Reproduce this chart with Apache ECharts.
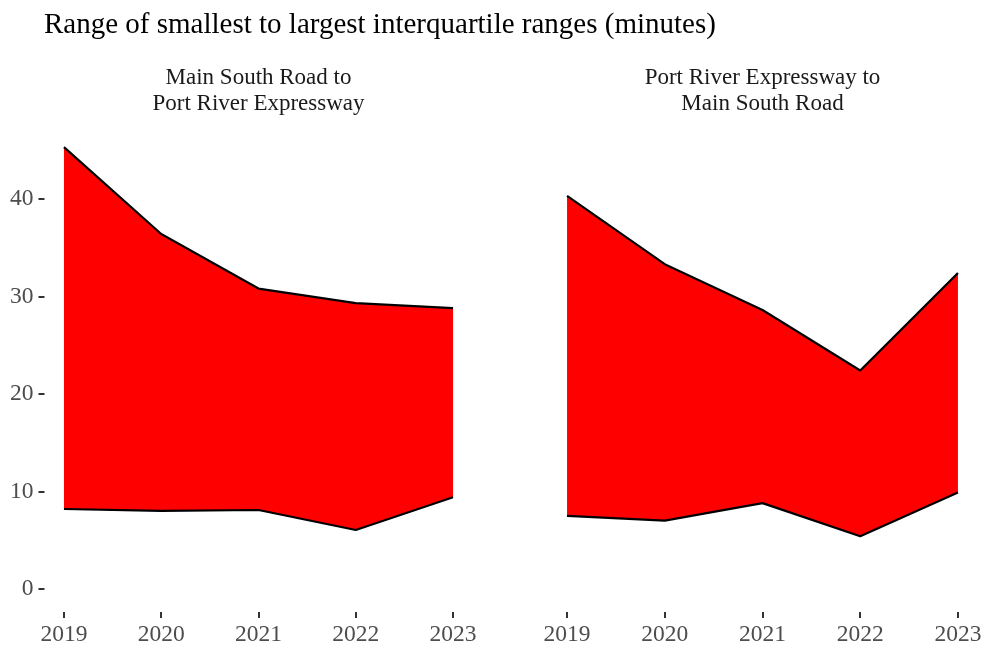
<!DOCTYPE html>
<html>
<head>
<meta charset="utf-8">
<script src="https://cdn.jsdelivr.net/npm/echarts@6/dist/echarts.min.js"></script>
<style>
html,body{margin:0;padding:0;background:#fff;}
#chart{width:987px;height:653px;}
</style>
</head>
<body>
<div id="chart"></div>
<script>
const years = [2019, 2020, 2021, 2022, 2023];
const yTicks = [0, 10, 20, 30, 40];
const panelTitles = ['Main South Road to\nPort River Expressway', 'Port River Expressway to\nMain South Road'];
const mainTitle = 'Range of smallest to largest interquartile ranges (minutes)';
// Main South Road -> Port River Expressway
const lowerA = [8.2, 8.0, 8.1, 6.05, 9.4];
const upperA = [45.3, 36.4, 30.8, 29.3, 28.8];
// Port River Expressway -> Main South Road
const lowerB = [7.5, 7.0, 8.8, 5.4, 9.9];
const upperB = [40.3, 33.3, 28.6, 22.4, 32.4];

const FONT = '"Liberation Serif", "Times New Roman", serif';
const chart = echarts.init(document.getElementById('chart'), null, {renderer: 'canvas'});

function pairs(vals) { return years.map((y, i) => [y, vals[i]]); }

const grids = [
  {left: 44.5, width: 428, top: 125, height: 487},
  {left: 547.5, width: 430, top: 125, height: 487}
];

function xAxis(idx) {
  return {
    type: 'value', gridIndex: idx, min: 2018.8, max: 2023.2,
    axisLine: {show: false, onZero: false},
    splitLine: {show: false},
    axisTick: {show: true, length: 6, customValues: years, lineStyle: {color: '#333333', width: 2}},
    axisLabel: {show: true, customValues: years, color: '#4d4d4d', fontFamily: FONT, fontSize: 23.5, margin: 11,
      formatter: v => String(v)}
  };
}
function yAxis(idx, showLabels) {
  return {
    type: 'value', gridIndex: idx, min: -2.36, max: 47.57,
    axisLine: {show: false, onZero: false},
    splitLine: {show: false},
    axisTick: {show: showLabels, length: 6, customValues: yTicks, lineStyle: {color: '#333333', width: 2}},
    axisLabel: {show: showLabels, customValues: yTicks, color: '#4d4d4d', fontFamily: FONT, fontSize: 23.5, margin: 11}
  };
}

function bandSeries(idx, lo, hi) {
  return [
    {
      type: 'custom', xAxisIndex: idx, yAxisIndex: idx, z: 2, silent: true,
      data: years.map((y, i) => [y, lo[i], hi[i]]),
      encode: {x: 0, y: [1, 2]},
      renderItem: (params, api) => {
        if (params.dataIndex !== 0) return null;
        const top = years.map((y, i) => api.coord([y, hi[i]]));
        const bot = years.map((y, i) => api.coord([y, lo[i]])).reverse();
        return {type: 'polygon', shape: {points: top.concat(bot)}, style: {fill: '#FF0000', stroke: null}};
      }
    },
    {
      type: 'line', xAxisIndex: idx, yAxisIndex: idx, z: 4,
      data: pairs(lo), symbol: 'none', silent: true,
      lineStyle: {color: '#000', width: 2.2}
    },
    {
      type: 'line', xAxisIndex: idx, yAxisIndex: idx, z: 4,
      data: pairs(hi), symbol: 'none', silent: true,
      lineStyle: {color: '#000', width: 2.2}
    }
  ];
}

chart.setOption({
  animation: false,
  backgroundColor: '#ffffff',
  title: [
    {text: mainTitle, left: 44, top: 11, padding: 0, textStyle: {fontFamily: FONT, fontSize: 29, fontWeight: 'normal', color: '#000'}},
    {text: panelTitles[0], left: 258.5, textAlign: 'center', top: 65, padding: 0,
      textStyle: {fontFamily: FONT, fontSize: 23, fontWeight: 'normal', color: '#1a1a1a', lineHeight: 26, align: 'center'}},
    {text: panelTitles[1], left: 762.5, textAlign: 'center', top: 65, padding: 0,
      textStyle: {fontFamily: FONT, fontSize: 23, fontWeight: 'normal', color: '#1a1a1a', lineHeight: 26, align: 'center'}}
  ],
  grid: grids,
  xAxis: [xAxis(0), xAxis(1)],
  yAxis: [yAxis(0, true), yAxis(1, false)],
  series: [
    ...bandSeries(0, lowerA, upperA),
    ...bandSeries(1, lowerB, upperB)
  ]
});
</script>
</body>
</html>
